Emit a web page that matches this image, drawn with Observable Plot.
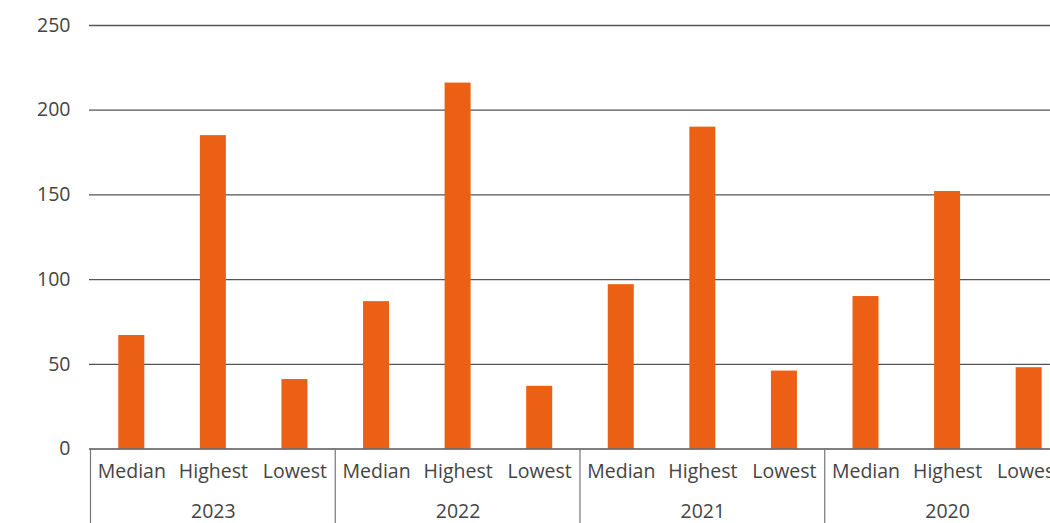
<!DOCTYPE html>
<html>
<head>
<meta charset="utf-8">
<script src="https://cdn.jsdelivr.net/npm/d3@7"></script>
<script src="https://cdn.jsdelivr.net/npm/@observablehq/plot@0.6"></script>
<style>
  html, body { margin: 0; padding: 0; background: #fff; overflow: hidden; }
  #chart { width: 1050px; height: 523px; overflow: hidden; }
</style>
</head>
<body>
<div id="chart"></div>
<script>
// Yearly figures: median, highest and lowest value per year
const years = ["2023", "2022", "2021", "2020"];
const measures = ["Median", "Highest", "Lowest"];
const medianValues = [67, 87, 97, 90];
const highestValues = [185, 216, 190, 152];
const lowestValues = [41, 37, 46, 48];
const yTicks = [0, 50, 100, 150, 200, 250];

const byMeasure = { Median: medianValues, Highest: highestValues, Lowest: lowestValues };
const rows = years.flatMap((year, i) =>
  measures.map(measure => ({ year, measure, key: `${year}|${measure}`, value: byMeasure[measure][i] }))
);
const keys = rows.map(d => d.key);

// Layout
const width = 1050, height = 523;
const marginLeft = 89, marginTop = 25, marginBottom = 74.5;
const xStart = 90.5, xStep = 81.58;
const barShare = 26 / xStep;
const barColor = "#ec6016";
const font = "'Open Sans', sans-serif";
const fontSize = 19.5;

// Vertical group dividers below the baseline, placed from the x scale
function groupDividers(index, scales, values, dims) {
  const x = scales.x;
  const step = x(keys[1]) - x(keys[0]);
  const bw = typeof x.bandwidth === "function" ? x.bandwidth() : step * barShare;
  const g = d3.create("svg:g").attr("stroke", "#777").attr("stroke-width", 1.2);
  const y1 = dims.height - dims.marginBottom;
  years.forEach(year => {
    const cx = x(`${year}|Median`) + bw / 2 - step / 2;
    g.append("line").attr("x1", cx).attr("x2", cx).attr("y1", y1).attr("y2", dims.height);
  });
  return g.node();
}

const chart = Plot.plot({
  width, height, marginLeft, marginRight: 0, marginTop, marginBottom,
  style: { fontFamily: font, fontSize: `${fontSize}px`, color: "#444", background: "#fff", overflow: "hidden" },
  x: {
    type: "band",
    domain: keys,
    range: [xStart, xStart + xStep * keys.length],
    paddingInner: 1 - barShare,
    paddingOuter: (1 - barShare) / 2,
    round: false,
    axis: null
  },
  y: { domain: [0, 250], axis: null },
  marks: [
    Plot.ruleY(yTicks.filter(t => t > 0), { stroke: "#555", strokeWidth: 1.3 }),
    Plot.barY(rows, { x: "key", y: "value", fill: barColor }),
    Plot.ruleY([0], { stroke: "#555", strokeWidth: 1.3 }),
    Plot.axisY({ ticks: yTicks, tickSize: 0, tickPadding: 19, label: null, fontSize }),
    Plot.axisX({ tickSize: 0, tickPadding: 15, label: null, fontSize,
                 tickFormat: k => k.split("|")[1] }),
    Plot.text(years, { x: d => `${d}|Highest`, text: d => d, frameAnchor: "bottom",
                       lineAnchor: "middle", dy: 63, fontSize, fill: "#444" }),
    groupDividers
  ]
});

document.getElementById("chart").appendChild(chart);
</script>
</body>
</html>
